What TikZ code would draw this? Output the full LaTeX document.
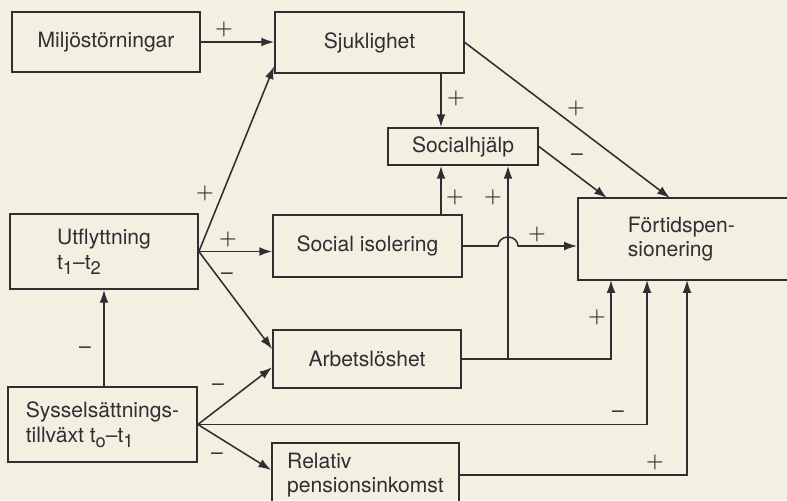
\documentclass[tikz,border=0pt]{standalone}
\usepackage{fontspec}
\setmainfont{TeX Gyre Heros}
\usetikzlibrary{arrows.meta,calc}
\definecolor{paper}{RGB}{242,240,225}
\definecolor{ink}{RGB}{50,45,50}
\newcommand{\tsub}[1]{\raisebox{-0.45ex}{\fontsize{13}{13}\selectfont #1}}
\tikzset{
  box/.style={draw=ink,line width=1.2pt,text=ink,font=\fontsize{15}{17.5}\selectfont,align=left,inner sep=0pt},
  link/.style={draw=ink,line width=1.1pt,-{Latex[length=3.2mm,width=2.2mm]}},
  sgn/.style={text=ink,font=\fontsize{15}{15}\selectfont\boldmath,inner sep=0pt},
}
\begin{document}
\begin{tikzpicture}[x=0.025cm,y=-0.025cm]
  \useasboundingbox (0,0) rectangle (787,500);
  \fill[paper] (0,0) rectangle (787,500);
  \node (milj) at (106,42) [box,minimum width=4.7cm,minimum height=1.5cm] {Miljöstörningar};
  \node (sjuk) at (369.5,42.5) [box,minimum width=4.725cm,minimum height=1.525cm] {Sjuklighet};
  \node (socb) at (463,146.5) [box,minimum width=3.75cm,minimum height=0.925cm] {Socialhjälp};
  \node (fort) at (577,239) [box,anchor=west,text width=2.825cm,inner xsep=1.25cm,minimum height=2.05cm] {Förtidspen-\\sionering};
  \node (isol) at (367.5,246) [box,minimum width=4.725cm,minimum height=1.55cm] {Social isolering};
  \node (utfl) at (104,251.5) [box,minimum width=4.7cm,minimum height=1.875cm] {Utflyttning\\t\tsub{1}--t\tsub{2}};
  \node (arbl) at (367,359) [box,minimum width=4.7cm,minimum height=1.45cm] {Arbetslöshet};
  \node (syss) at (102.5,424.5) [box,minimum width=4.725cm,minimum height=1.875cm] {Sysselsättnings-\\tillväxt t\tsub{o}--t\tsub{1}};
  \node (rela) at (365.5,475) [box,minimum width=4.675cm,minimum height=1.6cm] {Relativ\\pensionsinkomst};
  \coordinate (xa) at (441,0);
  \coordinate (xb) at (508,0);
  \coordinate (f1) at (611,280);
  \coordinate (f2) at (647,280);
  \coordinate (f3) at (687,280);
  \coordinate (t1) at (607,198);
  \coordinate (t2) at (670,198);
  \draw[link] (milj.east) -- (milj.east -| sjuk.west);
  \draw[link] (utfl.east) -- (sjuk.194);
  \draw[link] (utfl.east) -- (utfl.east -| isol.west);
  \draw[link] (utfl.east) -- (arbl.174);
  \draw[link] (syss.north -| utfl) -- (utfl.south);
  \draw[link] (syss.east) -- (arbl.185);
  \draw[link] (syss.east) -| (f2);
  \draw[link] (syss.east) -- (rela.177);
  \draw[link] (sjuk.south -| xa) -- (socb.north -| xa);
  \draw[link] (sjuk.east) -- (t2);
  \draw[link] (socb.east) -- (t1);
  \draw[link] (isol.north -| xa) -- (socb.south -| xa);
  \draw[link] (arbl.east) -| (f1);
  \draw[link] (arbl.east -| xb) -- (socb.south -| xb);
  \draw[link] (isol.east) -- ($(isol.east -| xb)+(-10,0)$) arc[start angle=180,end angle=360,x radius=10,y radius=9] -- (isol.east -| fort.west);
  \draw[link] (rela.east) -| (f3);
  \node (pa) at (224,29) [sgn] {$+$};
  \node (pb) at (205,193) [sgn] {$+$};
  \node (pc) at (228,239) [sgn] {$+$};
  \node (ma) at (227,276) [sgn] {--};
  \node (mb) at (85,350) [sgn] {--};
  \node (mc) at (218,387) [sgn] {--};
  \node (md) at (217,456) [sgn] {--};
  \node (me) at (618,414) [sgn] {--};
  \node (pd) at (597,317) [sgn] {$+$};
  \node (pe) at (655,462) [sgn] {$+$};
  \node (pf) at (456,98) [sgn] {$+$};
  \node (pg) at (576,108) [sgn] {$+$};
  \node (mf) at (577,157) [sgn] {--};
  \node (ph) at (455,197) [sgn] {$+$};
  \node (pi) at (493,197) [sgn] {$+$};
  \node (pj) at (537,234) [sgn] {$+$};
\end{tikzpicture}
\end{document}
